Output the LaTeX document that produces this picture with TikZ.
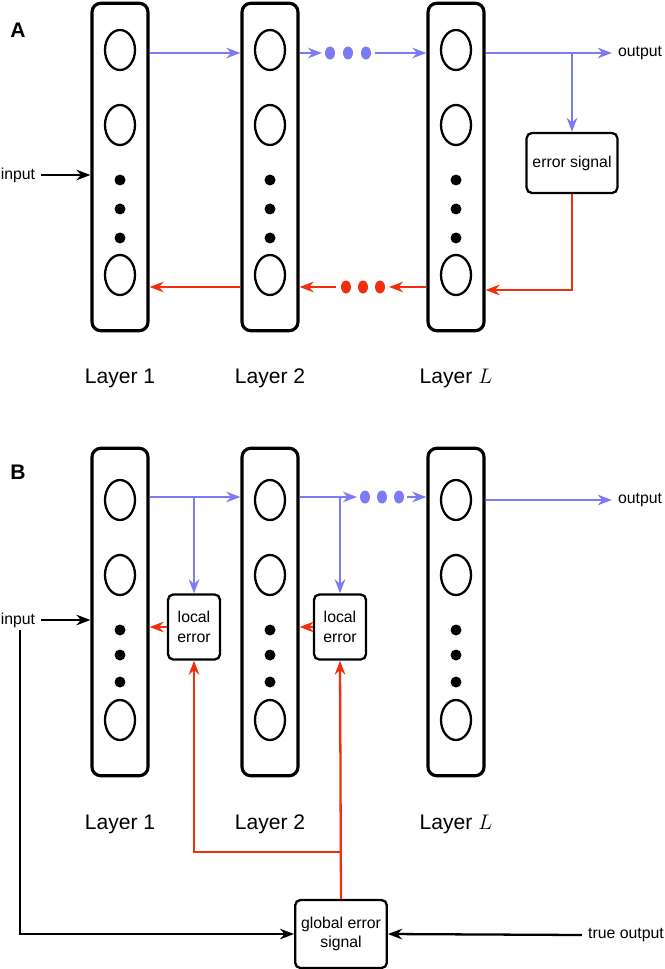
\documentclass[tikz,border=0pt]{standalone}
\usepackage{fontspec}
\setmainfont{Liberation Sans}
\usetikzlibrary{arrows.meta,positioning,calc,shapes.geometric}
\definecolor{fwdblue}{HTML}{7B7BF5}
\definecolor{errred}{HTML}{F22E0E}
\tikzset{
  layerbox/.style={draw,line width=1.8pt,rounded corners=5pt,minimum width=1.12cm,minimum height=6.55cm},
  unit/.style={draw,line width=1.3pt,ellipse,minimum width=0.6cm,minimum height=0.8cm},
  errbox/.style={draw,line width=1.3pt,rounded corners=3pt,align=center,font=\small},
  fwd/.style={fwdblue,line width=1.3pt,-{Stealth[length=8pt]}},
  bwd/.style={errred,line width=1.3pt,-{Stealth[length=8pt]}},
  blk/.style={black,line width=1.3pt,-{Stealth[length=8pt]}}
}
\begin{document}
\begin{tikzpicture}[x=0.02cm,y=-0.02cm]
  \useasboundingbox (0,0) rectangle (664,969);

  % Panel A
  \node[font=\bfseries\large] at (18,30) {A};
  \foreach \n/\x/\lab in {a1/120/Layer 1,a2/270/Layer 2,aL/456/Layer $L$} {
    \node[layerbox] (\n) at (\x,167) {};
    \node[unit] (\n u1) at (\x,50) {};
    \node[unit] (\n u2) at (\x,125) {};
    \node[unit] (\n u3) at (\x,275) {};
    \foreach \y in {180,209,238} \fill (\x,\y) circle (5.5);
    \node[font=\large] (\n lab) at (\x,378) {\lab};
  }
  \foreach \x in {330,348,366} \fill[fwdblue] (\x,53) ellipse (5 and 6.5);
  \foreach \x in {346,363,380} \fill[errred] (\x,287) ellipse (5 and 6.5);
  \coordinate (adotsR) at (375,53);
  \coordinate (adotsL) at (336,287);
  \node[errbox,minimum width=1.6cm,minimum height=1.2cm] (aerr) at (572,163) {error signal};
  \node (aout) at (640,53) {\small output};
  \node (ain) at (18,175) {\small input};
  \draw[fwd] (a1.east |- 0,53) -- (a2.west |- 0,53);
  \draw[fwd] (a2.east |- 0,53) -- (322,53);
  \draw[fwd] (adotsR) -- (aL.west |- 0,53);
  \draw[fwd] (aL.east |- 0,53) -- (aout.west);
  \draw[fwd] (572,53) -- (aerr.north);
  \draw[bwd] (aerr.south) |- (aL.east |- 0,290);
  \draw[bwd] (aL.west |- 0,287) -- (389,287);
  \draw[bwd] (adotsL) -- (a2.east |- 0,287);
  \draw[bwd] (a2.west |- 0,287) -- (a1.east |- 0,287);
  \draw[blk] (ain.east) -- (a1.west |- ain);

  % Panel B
  \node[font=\bfseries\large] at (18,472) {B};
  \foreach \n/\x/\lab in {b1/120/Layer 1,b2/270/Layer 2,bL/456/Layer $L$} {
    \node[layerbox] (\n) at (\x,612) {};
    \node[unit] (\n u1) at (\x,500) {};
    \node[unit] (\n u2) at (\x,575) {};
    \node[unit] (\n u3) at (\x,720) {};
    \foreach \y in {630,655,682} \fill (\x,\y) circle (5.5);
    \node[font=\large] (\n lab) at (\x,824) {\lab};
  }
  \foreach \x in {365,382,399} \fill[fwdblue] (\x,497) ellipse (5 and 6.5);
  \node[errbox,minimum width=1.04cm,minimum height=1.3cm] (ble1) at (194,627) {local\\error};
  \node[errbox,minimum width=1.04cm,minimum height=1.3cm] (ble2) at (340,627) {local\\error};
  \node[errbox,minimum width=1.72cm,minimum height=1.36cm] (bglob) at (341,934) {global error\\signal};
  \node (bout) at (640,500) {\small output};
  \node (bin) at (18,620) {\small input};
  \node (btrue) at (626,935) {\small true output};
  \draw[fwd] (b1.east |- 0,497) -- (b2.west |- 0,497);
  \draw[fwd] (b2.east |- 0,497) -- (357,497);
  \draw[fwd] (407,497) -- (bL.west |- 0,497);
  \draw[fwd] (bL.east |- 0,500) -- (bout.west);
  \draw[fwd] (194,497) -- (ble1.north);
  \draw[fwd] (340,497) -- (ble2.north);
  \draw[bwd] (ble1.west) -- (b1.east |- ble1);
  \draw[bwd] (ble2.west) -- (b2.east |- ble2);
  \draw[bwd] (bglob.north) -- (ble2.south);
  \draw[bwd] (bglob.north |- 0,852) -| (ble1.south);
  \draw[blk] (bin.east) -- (b1.west |- bin);
  \draw[blk] (20,630) |- (bglob.west);
  \draw[blk] (btrue.west) -- (bglob.east);
\end{tikzpicture}
\end{document}
